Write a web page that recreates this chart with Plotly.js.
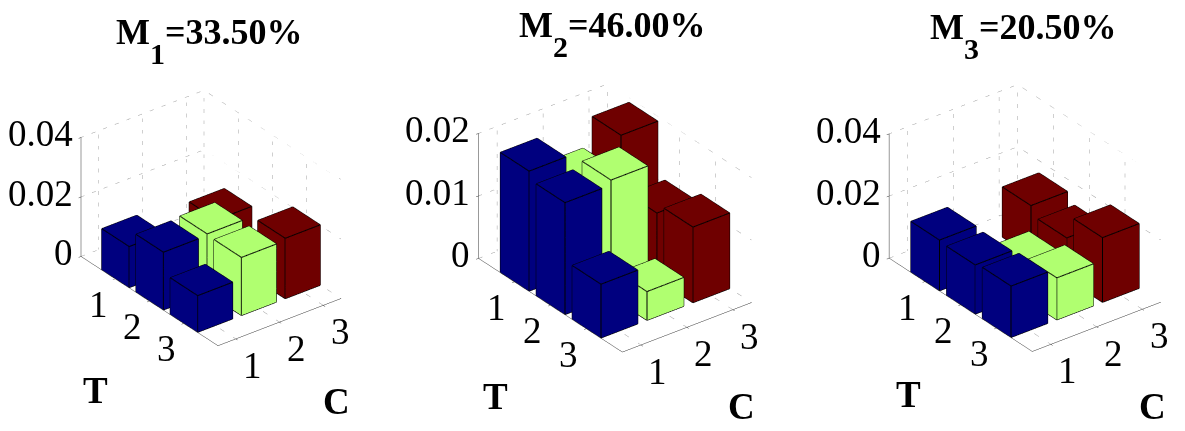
<!DOCTYPE html>
<html><head><meta charset="utf-8">
<script src="https://cdn.plot.ly/plotly-3.0.1.min.js"></script>
<style>html,body{margin:0;padding:0;background:#fff}#g{width:1185px;height:431px}</style>
</head><body><div id="g"></div>
<script>
// values: rows are T = 1,2,3, columns are C = 1,2,3
const T_LABELS = [1, 2, 3];
const C_LABELS = [1, 2, 3];
const M1_VALUES = [[0.0138, 0, 0.0115], [0.0194, 0.0199, 0], [0.0123, 0.0195, 0.0203]];
const M2_VALUES = [[0.0192, 0.0148, 0.0193], [0.0179, 0.0187, 0.0106], [0.0086, 0.0046, 0.0121]];
const M3_VALUES = [[0.0163, 0, 0.0161], [0.0158, 0.0104, 0.0132], [0.0165, 0.0135, 0.0208]];
const M1_ZTICKS = [0, 0.02, 0.04];
const M2_ZTICKS = [0, 0.01, 0.02];
const M3_ZTICKS = [0, 0.02, 0.04];
const SUB_STYLE = 'font-size:30px;baseline-shift:-12px';
const TITLES = [['M', '1', '=33.50%'], ['M', '2', '=46.00%'], ['M', '3', '=20.50%']];
const COLUMN_COLORS = ['#00007f', '#b0ff70', '#6f0000'];

const W = 1185, H = 431;
const SERIF = '"Liberation Serif", "Times New Roman", serif';
const C_RANGE = [0.595, 3.405], T_RANGE = [0, 4], HALF = 0.4;
const panels = [
  {values: M1_VALUES, ticks: M1_ZTICKS, cx: 211, s: 1.0, title: [209, 10], tl: [95, 390], cl: [336, 401]},
  {values: M2_VALUES, ticks: M2_ZTICKS, cx: 614.5, s: 1.05, title: [612, 3], tl: [496, 396], cl: [741, 406]},
  {values: M3_VALUES, ticks: M3_ZTICKS, cx: 1024.8, s: 1.045, title: [1023, 5], tl: [908, 394], cl: [1152, 406]}
];
const CY = 217.5, HW = 160, HH = 190;
const EYE = [-0.5272, -0.6871, 0.5], D = 2;
const ASPECT = {x: 155 / HH, y: 225 / HH, z: 137.4 / HH};

function boxes(vals, colIdx) {
  const x = [], y = [], z = [], i = [], j = [], k = [];
  T_LABELS.forEach((t, r) => {
    const h = vals[r][colIdx];
    if (!h) return;
    const c = C_LABELS[colIdx], n = x.length;
    [0, h].forEach(zz => {
      [[c - HALF, t - HALF], [c + HALF, t - HALF], [c + HALF, t + HALF], [c - HALF, t + HALF]].forEach(p => {
        x.push(p[0]); y.push(-p[1]); z.push(zz);
      });
    });
    [[4,5,6],[4,6,7],[0,1,5],[0,5,4],[1,2,6],[1,6,5],[2,3,7],[2,7,6],[3,0,4],[3,4,7]].forEach(f => {
      i.push(n + f[0]); j.push(n + f[1]); k.push(n + f[2]);
    });
  });
  return {x, y, z, i, j, k};
}
function edges(vals) {
  const x = [], y = [], z = [];
  const seg = (a, b) => { x.push(a[0], b[0], null); y.push(a[1], b[1], null); z.push(a[2], b[2], null); };
  vals.forEach((row, r) => row.forEach((h, cI) => {
    if (!h) return;
    const t = T_LABELS[r], c = C_LABELS[cI];
    const cs = [[c - HALF, -(t - HALF)], [c + HALF, -(t - HALF)], [c + HALF, -(t + HALF)], [c - HALF, -(t + HALF)]];
    cs.forEach((p, n) => {
      const q = cs[(n + 1) % 4];
      seg([p[0], p[1], h], [q[0], q[1], h]);
      seg([p[0], p[1], 0], [q[0], q[1], 0]);
      seg([p[0], p[1], 0], [p[0], p[1], h]);
    });
  }));
  return {x, y, z};
}
function grid(ticks) {
  const x = [], y = [], z = [];
  const seg = (a, b) => { x.push(a[0], b[0], null); y.push(a[1], b[1], null); z.push(a[2], b[2], null); };
  const cMin = C_RANGE[0], cMax = C_RANGE[1], tMin = -T_RANGE[0], tMax = -T_RANGE[1], zTop = ticks[ticks.length - 1];
  ticks.forEach(v => {
    seg([cMin, tMin, v], [cMax, tMin, v]);
    seg([cMax, tMin, v], [cMax, tMax, v]);
  });
  C_LABELS.forEach(c => {
    seg([c, tMin, 0], [c, tMin, zTop]);
    seg([c, tMin, 0], [c, tMax, 0]);
  });
  T_LABELS.forEach(t => {
    seg([cMax, -t, 0], [cMax, -t, zTop]);
    seg([cMin, -t, 0], [cMax, -t, 0]);
  });
  seg([cMax, tMin, 0], [cMax, tMin, zTop]);
  return {x, y, z};
}
const traces = [], layout = {
  width: W, height: H, margin: {l: 0, r: 0, t: 0, b: 0}, paper_bgcolor: '#fff', showlegend: false,
  annotations: []
};
const font = (size) => ({family: SERIF, size, color: '#000'});
panels.forEach((p, n) => {
  const id = n ? 'scene' + (n + 1) : 'scene';
  C_LABELS.forEach((c, cI) => traces.push(Object.assign({
    type: 'mesh3d', scene: id, color: COLUMN_COLORS[cI], flatshading: true, hoverinfo: 'skip',
    lighting: {ambient: 1, diffuse: 0, specular: 0, roughness: 1, fresnel: 0}
  }, boxes(p.values, cI))));
  traces.push(Object.assign({type: 'scatter3d', mode: 'lines', scene: id, hoverinfo: 'skip', connectgaps: false,
    line: {color: '#000', width: 2}}, edges(p.values)));
  traces.push(Object.assign({type: 'scatter3d', mode: 'lines', scene: id, hoverinfo: 'skip', connectgaps: false,
    line: {color: '#a0a0a0', width: 1, dash: 'dot'}}, grid(p.ticks)));
  const axis = (range, tickvals) => ({
    range, tickvals, showticklabels: false, ticks: 'outside', ticklen: 3, tickcolor: '#333', tickwidth: 1,
    showline: true, linecolor: '#333', linewidth: 1, showgrid: false, zeroline: false, showbackground: false,
    showspikes: false, title: {text: ''}, autorange: false
  });
  const zTop = p.ticks[p.ticks.length - 1];
  const anns = [];
  p.ticks.forEach(v => anns.push({x: C_RANGE[0], y: -T_RANGE[0], z: v, text: String(v), showarrow: false,
    font: font(37), xanchor: 'right', yanchor: 'middle', xshift: -6, yshift: 3}));
  T_LABELS.forEach(t => anns.push({x: C_RANGE[0], y: -t, z: 0, text: String(t), showarrow: false,
    font: font(37), xanchor: 'center', yanchor: 'middle', xshift: -17, yshift: -26}));
  C_LABELS.forEach(c => anns.push({x: c, y: -T_RANGE[1], z: 0, text: String(c), showarrow: false,
    font: font(37), xanchor: 'center', yanchor: 'middle', xshift: 17, yshift: -27}));
  layout[id] = {
    domain: {x: [(p.cx - HW) / W, (p.cx + HW) / W], y: [(H - CY - HH) / H, (H - CY + HH) / H]},
    aspectmode: 'manual', aspectratio: {x: ASPECT.x * p.s, y: ASPECT.y * p.s, z: ASPECT.z * p.s},
    camera: {projection: {type: 'orthographic'}, up: {x: 0, y: 0, z: 1}, center: {x: 0, y: 0, z: 0},
      eye: {x: EYE[0] * D, y: EYE[1] * D, z: EYE[2] * D}},
    xaxis: axis(C_RANGE, C_LABELS),
    yaxis: axis([-T_RANGE[1], -T_RANGE[0]], T_LABELS.map(t => -t)),
    zaxis: axis([0, zTop], p.ticks),
    annotations: anns
  };
  const t = TITLES[n];
  layout.annotations.push({xref: 'paper', yref: 'paper', x: p.title[0] / W, y: 1 - p.title[1] / H,
    text: '<b>' + t[0] + '<sub><span style="' + SUB_STYLE + '">' + t[1] + '</span></sub>' + t[2] + '</b>',
    showarrow: false, xanchor: 'center', yanchor: 'top', font: font(36)});
  layout.annotations.push({xref: 'paper', yref: 'paper', x: p.tl[0] / W, y: 1 - p.tl[1] / H, text: '<b>T</b>',
    showarrow: false, xanchor: 'center', yanchor: 'middle', font: font(37)});
  layout.annotations.push({xref: 'paper', yref: 'paper', x: p.cl[0] / W, y: 1 - p.cl[1] / H, text: '<b>C</b>',
    showarrow: false, xanchor: 'center', yanchor: 'middle', font: font(37)});
});
Plotly.newPlot('g', traces, layout, {displayModeBar: false});
</script></body></html>
